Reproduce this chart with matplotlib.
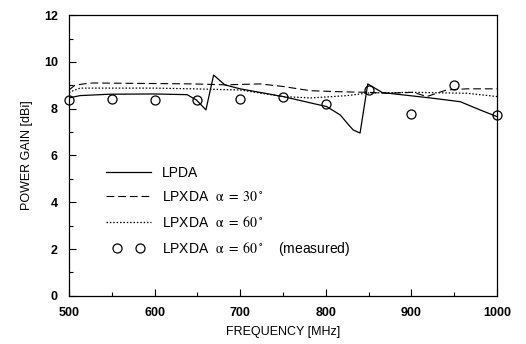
import matplotlib
matplotlib.use("Agg")
import matplotlib.pyplot as plt
from matplotlib.ticker import MultipleLocator
from matplotlib.legend_handler import HandlerLine2D

plt.rcParams['font.family'] = ['Liberation Sans', 'DejaVu Sans']
plt.rcParams['mathtext.fontset'] = 'stix'
plt.rcParams['mathtext.default'] = 'rm'

# LPDA (solid)
lpda_f = [500, 513, 548, 600, 638, 649, 660, 669, 682, 700, 750, 801, 817, 825, 832, 840, 849, 866, 922, 957, 980, 1000]
lpda_g = [8.46, 8.56, 8.62, 8.63, 8.6, 8.37, 7.95, 9.44, 9.02, 8.85, 8.52, 8.09, 7.73, 7.38, 7.09, 6.96, 9.06, 8.69, 8.46, 8.3, 7.95, 7.66]

# LPXDA alpha = 30 (dashed)
x30_f = [500, 507, 517, 528, 645, 683, 723, 750, 782, 820, 849, 871, 902, 918, 941, 965, 1000]
x30_g = [8.8, 9.0, 9.06, 9.1, 9.06, 9.02, 9.06, 8.95, 8.77, 8.72, 8.7, 8.66, 8.7, 8.52, 8.8, 8.85, 8.85]

# LPXDA alpha = 60 (dotted)
x60_f = [500, 513, 600, 645, 700, 750, 782, 825, 849, 900, 965, 1000]
x60_g = [8.7, 8.88, 8.88, 8.85, 8.8, 8.52, 8.46, 8.56, 8.67, 8.7, 8.66, 8.52]

# LPXDA alpha = 60 measured (circles)
meas_f = [500, 550, 600, 650, 700, 750, 800, 850, 900, 950, 1000]
meas_g = [8.37, 8.4, 8.37, 8.37, 8.42, 8.52, 8.18, 8.78, 7.76, 9.0, 7.75]

fig = plt.figure(figsize=(5.26, 3.44), dpi=100)
ax = fig.add_axes([0.131, 0.140, 0.814, 0.816])

ax.plot(lpda_f, lpda_g, color='black', lw=0.9, label='LPDA')
ax.plot(x30_f, x30_g, color='black', lw=0.8, dashes=(7, 3.5),
        label='LPXDA  $\\alpha\\ =\\ 30\\,^{\\circ}$')
ax.plot(x60_f, x60_g, color='black', lw=0.9, dashes=(1.2, 1.5),
        label='LPXDA  $\\alpha\\ =\\ 60\\,^{\\circ}$')
meas_line, = ax.plot(meas_f, meas_g, linestyle='none', marker='o', markersize=6.5,
                     markerfacecolor='none', markeredgecolor='black', markeredgewidth=0.9,
                     label='LPXDA  $\\alpha\\ =\\ 60\\,^{\\circ}$    (measured)', clip_on=False)

ax.set_xlim(500, 1000)
ax.set_ylim(0, 12)
ax.xaxis.set_major_locator(MultipleLocator(100))
ax.xaxis.set_minor_locator(MultipleLocator(50))
ax.yaxis.set_major_locator(MultipleLocator(2))
ax.yaxis.set_minor_locator(MultipleLocator(1))
ax.tick_params(which='both', direction='in', top=False, right=False, width=0.8)
ax.tick_params(which='major', length=5, labelsize=9)
ax.tick_params(axis='x', which='major', pad=8)
ax.tick_params(axis='y', which='major', pad=8)
ax.tick_params(which='minor', length=3)
for lab in ax.get_xticklabels() + ax.get_yticklabels():
    lab.set_fontweight('bold')
for s in ax.spines.values():
    s.set_linewidth(0.9)

ax.set_xlabel('FREQUENCY [MHz]', fontsize=9, labelpad=5)
ax.set_ylabel('POWER GAIN [dBi]', fontsize=9, labelpad=8)

leg = ax.legend(loc='lower left', bbox_to_anchor=(0.048, 0.09), frameon=False,
                fontsize=10, handlelength=3.85, numpoints=2, labelspacing=0.75,
                handletextpad=0.5,
                handler_map={meas_line: HandlerLine2D(numpoints=2, marker_pad=1.1)})

fig.savefig('out.png', dpi=100)
